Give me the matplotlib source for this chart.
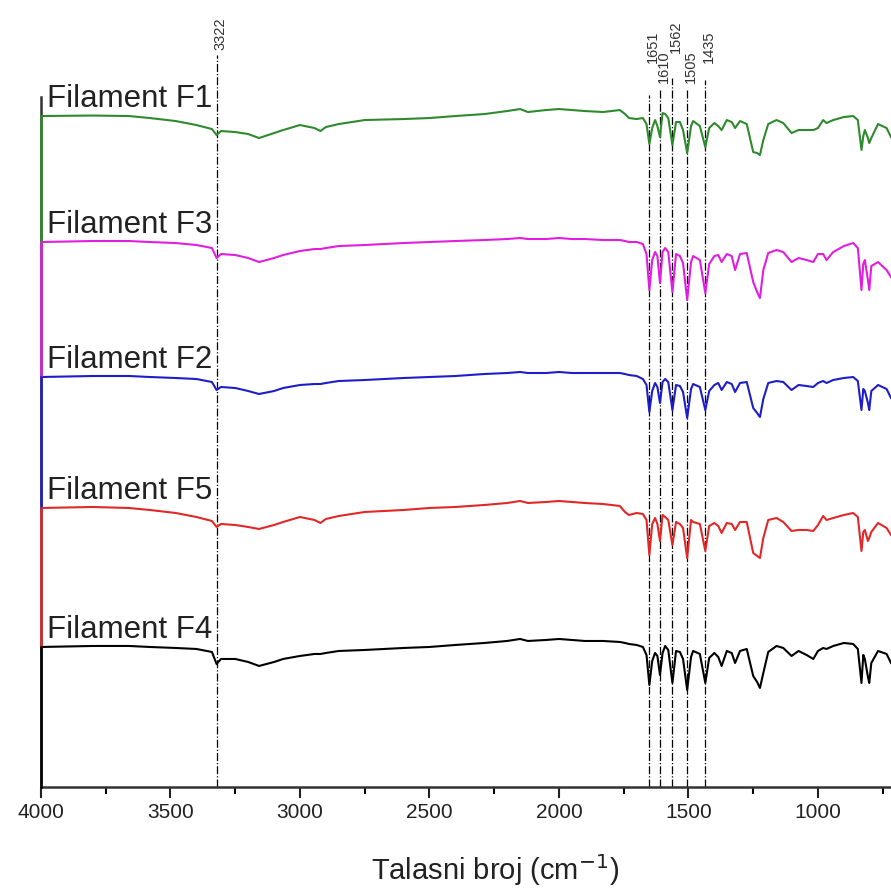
import numpy as np
import matplotlib.pyplot as plt

plt.rcParams['font.family'] = ['Liberation Sans', 'DejaVu Sans']

# wavenumbers (cm-1), shared by all spectra
wn = [4000, 3800, 3660, 3580, 3480, 3400, 3340, 3322, 3305, 3250,
      3200, 3158, 3100, 3065, 3000, 2944, 2921, 2900, 2850, 2750,
      2600, 2500, 2400, 2288, 2200, 2150, 2120, 2050, 2000, 1950,
      1900, 1830, 1765, 1745, 1730, 1700, 1676, 1662, 1651, 1640,
      1629, 1620, 1610, 1600, 1590, 1578, 1562, 1548, 1533, 1521,
      1505, 1490, 1482, 1456, 1435, 1420, 1400, 1385, 1372, 1352,
      1333, 1320, 1301, 1275, 1250, 1235, 1224, 1211, 1192, 1160,
      1134, 1102, 1075, 1044, 1018, 1000, 980, 967, 941, 900,
      864, 846, 832, 825, 819, 807, 802, 794, 768, 735, 718]

# absorption depth below the 4000 cm-1 level (a.u.)
f1 = [0, -0.5, 0, 2, 5, 9, 13, 19, 15, 16,
      18, 22, 17, 14, 9, 12, 15, 11, 8, 4,
      3, 2, 0, -2, -5, -7, -4, -6, -7, -6,
      -5, -4, -6, -2, 2, 3, 2, 8, 28, 12,
      4, 10, 21, -3, -2, 2, 29, 6, 6, 14,
      37, 10, 5, 10, 31, 12, 7, 10, 14, 4,
      6, 12, 5, 8, 36, 37, 39, 24, 8, 4,
      7, 17, 14, 14, 14, 12, 4, 7, 4, 1,
      0, 4, 34, 20, 14, 22, 27, 22, 8, 12, 21]
f3 = [0, -1, -1, 0, 1, 3, 6, 16, 12, 13,
      16, 20, 16, 13, 9, 7, 7, 6, 4, 3,
      1, 0, -1, -2, -3, -4, -3, -3, -4, -3,
      -3, -2, -2, -1, 0, 0, 2, 12, 48, 18,
      10, 14, 41, 10, 6, 10, 50, 12, 14, 21,
      58, 20, 14, 18, 51, 22, 14, 13, 20, 12,
      14, 28, 12, 11, 40, 50, 56, 28, 11, 8,
      10, 20, 16, 18, 20, 12, 12, 18, 10, 4,
      1, 6, 48, 22, 18, 38, 48, 24, 20, 28, 35]
f2 = [0, -1, -1, 0, 1, 2, 5, 13, 10, 11,
      14, 17, 14, 11, 8, 7, 7, 6, 4, 3,
      1, 0, -1, -3, -4, -5, -4, -4, -5, -4,
      -4, -4, -4, -3, -2, -1, 2, 8, 35, 14,
      6, 10, 26, 5, 2, 5, 33, 8, 9, 15,
      41, 12, 7, 10, 33, 14, 8, 6, 13, 5,
      7, 15, 6, 5, 31, 36, 40, 22, 6, 4,
      5, 13, 8, 9, 10, 6, 4, 6, 3, 1,
      0, 4, 33, 12, 14, 26, 33, 14, 8, 12, 21]
f5 = [0, -1, 0, 2, 5, 9, 13, 19, 16, 17,
      19, 21, 17, 14, 9, 12, 15, 11, 8, 4,
      2, 0, -1, -3, -5, -7, -5, -6, -7, -6,
      -5, -4, -2, 4, 7, 5, 6, 12, 47, 16,
      10, 16, 33, 7, 9, 12, 37, 14, 16, 20,
      50, 12, 14, 16, 43, 18, 15, 18, 25, 15,
      16, 22, 14, 14, 45, 48, 50, 30, 12, 10,
      14, 23, 22, 22, 23, 17, 8, 12, 10, 7,
      5, 9, 43, 24, 22, 33, 30, 24, 15, 20, 27]
f4 = [0, -1, -1, 0, 1, 2, 5, 17, 12, 12,
      15, 19, 15, 12, 9, 7, 7, 6, 4, 3,
      1, 0, -2, -4, -6, -8, -6, -7, -8, -7,
      -6, -6, -5, -4, -3, -2, 0, 8, 38, 14,
      6, 9, 28, 6, -1, 3, 36, 4, 5, 12,
      43, 10, 4, 7, 36, 11, 6, 10, 19, 4,
      6, 16, 4, 2, 29, 35, 41, 26, 5, -1,
      1, 9, 4, 8, 12, 4, 1, 2, -1, -4,
      -3, 2, 36, 8, 12, 30, 36, 16, 4, 7, 16]

names = ['Filament F1', 'Filament F3', 'Filament F2', 'Filament F5', 'Filament F4']
spectra = [f1, f3, f2, f5, f4]
colors = ['#2f8a2f', '#e01ee0', '#1e1ec8', '#e02828', '#000000']
offsets = [671, 545, 410, 279, 140]

peaks = [3322, 1651, 1610, 1562, 1505, 1435]
peak_top = [732, 692, 698, 709, 699, 707]
peak_lab = [737, 724, 704, 734, 704, 724]

fig = plt.figure(figsize=(8.91, 8.96), dpi=100)
ax = fig.add_axes([0.046, 0.1217, 0.954, 0.77])

x = np.array(wn)
for name, s, c, off in zip(names, spectra, colors, offsets):
    ax.plot(x, off - np.array(s), color=c, lw=1.5, zorder=3)
    ax.text(3978, off + 9, name, fontsize=22.5, color='#222222', va='baseline', ha='left')

# vertical drop of each trace at 4000 cm-1
levels = offsets + [0]
for i, c in enumerate(colors):
    ax.plot([4000, 4000], [levels[i], levels[i + 1]], color=c, lw=1.8,
            clip_on=False, zorder=4)

for p, top, lab in zip(peaks, peak_top, peak_lab):
    ax.plot([p, p], [0, top], color='black', lw=0.9, ls='-.', clip_on=False, zorder=2)
    ax.text(p - 14, lab, str(p), rotation=90, fontsize=10.5, color='#333333',
            ha='center', va='bottom')

ax.set_xlim(4000, 718)
ax.set_ylim(0, 690)
ax.set_xticks([4000, 3500, 3000, 2500, 2000, 1500, 1000])
ax.set_xticks(np.arange(3750, 700, -500), minor=True)
ax.tick_params(axis='x', which='major', length=8, width=1.5, labelsize=15, colors='#222222')
ax.tick_params(axis='x', which='minor', length=5, width=1.5)
ax.set_yticks([])
ax.spines['top'].set_visible(False)
ax.spines['right'].set_visible(False)
ax.spines['left'].set_linewidth(1.8)
ax.spines['bottom'].set_linewidth(1.8)
ax.spines['left'].set_color('#333333')
ax.spines['bottom'].set_color('#333333')
ax.set_xlabel('Talasni broj (cm$^{-1}$)', fontsize=21, color='#222222')
ax.xaxis.set_label_coords(0.534, -0.095)

fig.savefig('out.png', dpi=100)
